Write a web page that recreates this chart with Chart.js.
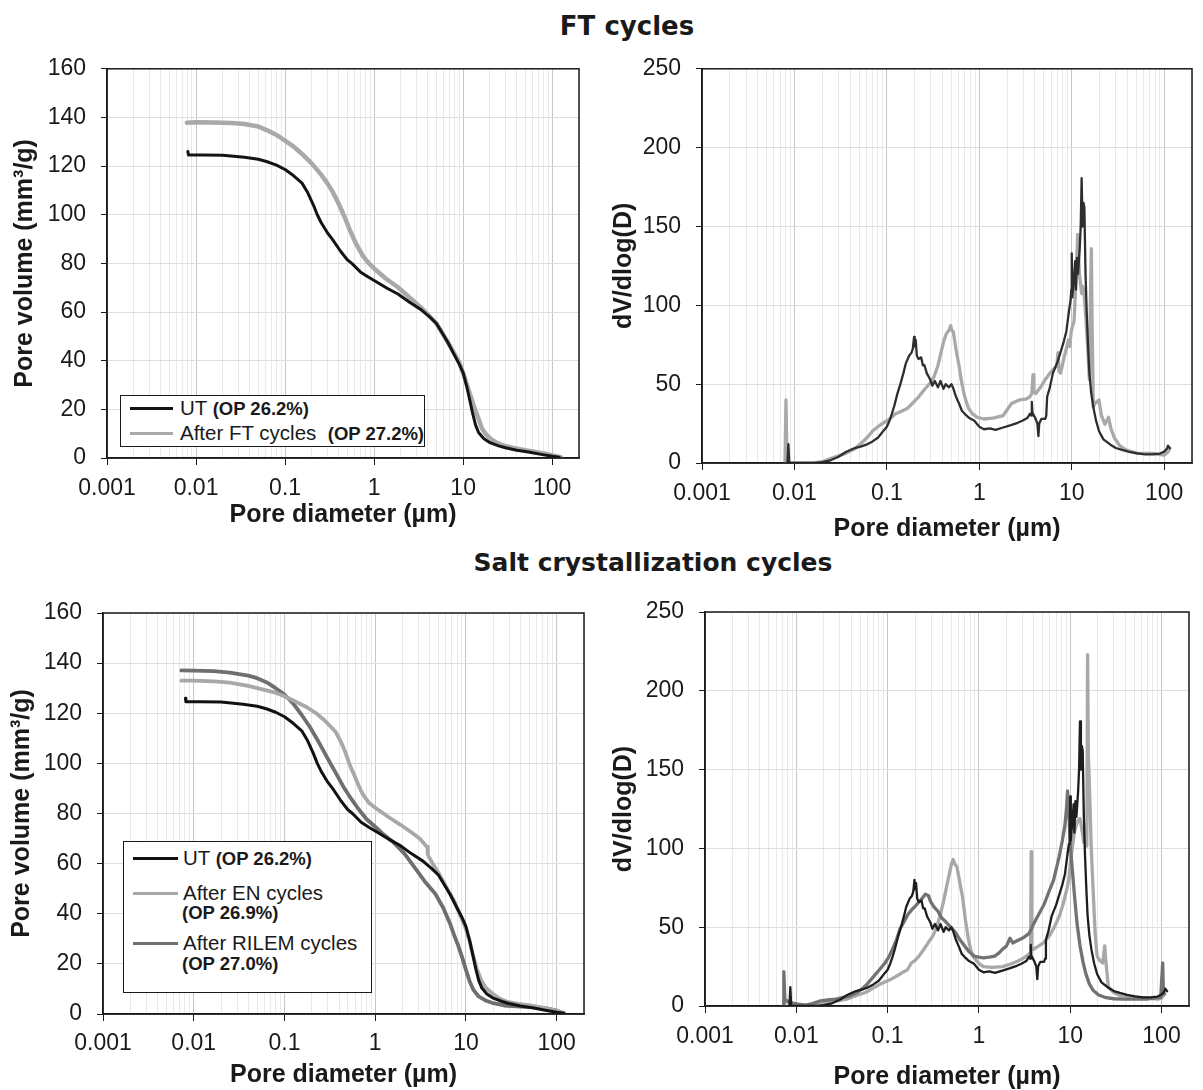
<!DOCTYPE html>
<html>
<head>
<meta charset="utf-8">
<script src="https://cdn.jsdelivr.net/npm/chart.js@4.4.1/dist/chart.umd.min.js"></script>
<style>
html,body{margin:0;padding:0;background:#fff;}
#page{position:relative;width:1203px;height:1090px;overflow:hidden;font-family:"Liberation Sans",Arial,sans-serif;color:#1a1a1a;background:#fff;}
canvas{position:absolute;}
.title{position:absolute;font-family:"DejaVu Sans",sans-serif;font-weight:bold;line-height:1;white-space:nowrap;transform:translateX(-50%);color:#1a1a1a;}
.legend{position:absolute;border:1.5px solid #1a1a1a;background:#fff;box-sizing:border-box;}
.legend .ln{position:absolute;height:3px;}
.legend .tx{position:absolute;white-space:pre;line-height:1;font-size:20.5px;transform:translateY(-50%);color:#1a1a1a;}
.legend .tx b{font-size:18.5px;}
</style>
</head>
<body>
<div id="page">
  <div class="title" style="left:627px;top:12.5px;font-size:26px;">FT cycles</div>
  <div class="title" style="left:653px;top:550px;font-size:25px;">Salt crystallization cycles</div>
  <canvas id="c1" width="600" height="505" style="left:0;top:40px;"></canvas>
  <canvas id="c2" width="603" height="505" style="left:600px;top:40px;"></canvas>
  <canvas id="c3" width="600" height="510" style="left:0;top:580px;"></canvas>
  <canvas id="c4" width="603" height="510" style="left:600px;top:580px;"></canvas>
</div>
<script>
// ---------- DATA ----------
const xTickLabels = ['0.001','0.01','0.1','1','10','100'];

// Cumulative pore volume (mm3/g) vs pore diameter (um)
const cumUT = [[0.0081,126],[0.0082,124.6],[0.012,124.6],[0.02,124.5],[0.035,123.6],[0.05,122.8],[0.063,121.8],[0.08,120.4],[0.1,118.6],[0.125,116],[0.155,113],[0.18,109],[0.208,104],[0.23,100],[0.254,96.8],[0.3,92.5],[0.342,89.8],[0.42,85],[0.5,81.5],[0.562,80],[0.7,76.5],[0.85,74.5],[1,73],[1.4,69.8],[1.85,67.4],[2.5,64],[3.36,61],[4.2,58],[4.99,55.4],[5.8,51.5],[6.7,47.7],[7.8,43],[9.06,38.5],[10,35],[11.04,29],[12,23],[12.8,18.2],[13.8,13.5],[14.9,10.5],[17,8],[20,6.3],[25,5],[29.8,4.2],[40,3.2],[54,2.5],[75,1.5],[100,0.7],[120,0.3]];
const cumFT = [[0.0079,137.8],[0.01,138],[0.0158,137.9],[0.025,137.7],[0.035,137.3],[0.05,136.3],[0.063,134.7],[0.08,132.8],[0.1,130.5],[0.125,128],[0.155,125],[0.2,121],[0.254,116.5],[0.3,112.8],[0.342,109.5],[0.4,104.5],[0.46,99.6],[0.53,94],[0.62,88.4],[0.75,83],[0.85,80.5],[1,77.9],[1.35,73.8],[1.85,70.2],[2.5,66],[3.36,61.8],[4.2,58.3],[4.99,55.4],[5.8,51.5],[6.7,47.7],[7.8,43.5],[9.06,39.3],[10.2,34],[11.5,28],[13,22],[14.9,16],[16.3,12],[18,9.8],[20.5,7.8],[23.6,6.3],[28,5.2],[35.6,4.2],[50,3.2],[65,2.5],[85,1.7],[100,1.1],[125,0.3]];
const cumEN = [[0.0073,133],[0.01,133],[0.0166,132.7],[0.025,132.2],[0.0398,130.9],[0.06,129.3],[0.08,128.2],[0.1,126.8],[0.13,124.8],[0.17,122.7],[0.22,120.2],[0.276,117.2],[0.32,114.8],[0.369,112.4],[0.42,108.5],[0.471,104.2],[0.53,99],[0.6,94.6],[0.66,91],[0.728,87.7],[0.85,84.3],[1,82.3],[1.4,78.6],[1.92,75.4],[2.5,72.5],[3.11,69.9],[3.6,67.2],[3.75,66.8],[3.8,63.5],[4.3,60],[5,56.2],[6.1,50.5],[7.4,45.2],[8.6,39.5],[9.9,34.3],[11,29],[12,23.3],[13.2,18],[14.6,13.7],[16.5,10.5],[19.5,8.2],[23.5,6.2],[28.8,4.8],[38,4],[51,3.4],[70,2.5],[100,1.4],[121,0.4]];
const cumRILEM = [[0.0073,137.1],[0.01,137],[0.0166,136.8],[0.025,136.2],[0.0398,135],[0.05,134],[0.064,132.3],[0.08,130],[0.1,127.5],[0.125,123.8],[0.155,119.3],[0.19,114.6],[0.228,109.7],[0.265,105.5],[0.304,101.5],[0.37,96],[0.449,90.5],[0.55,85.6],[0.66,81.6],[0.8,77.8],[1,74.7],[1.25,71.5],[1.59,68.5],[2.1,64],[2.83,57.6],[3.5,53],[4.59,48],[5.6,42.5],[6.76,35.6],[7.4,31.5],[8.2,27.4],[9.1,22.5],[9.96,17.8],[11,13],[12.1,9.6],[13.8,7],[16.2,5.5],[20,4.3],[26.3,3.4],[40,3],[57,2.7],[80,2.1],[100,1.4],[117,0.4]];

// Differential distribution dV/dlog(D) vs pore diameter (um)
const distUT = [[0.0084,0],[0.0086,12],[0.0088,0],[0.012,0],[0.0168,0],[0.02,0.5],[0.0246,1.7],[0.03,4],[0.036,7],[0.045,9.5],[0.053,10.5],[0.062,12],[0.07,13.7],[0.08,16],[0.0935,21],[0.1,23],[0.107,27],[0.113,31],[0.12,36],[0.13,44],[0.14,50],[0.151,57],[0.16,63],[0.174,68],[0.185,70],[0.191,72.6],[0.197,80],[0.2,74],[0.205,78],[0.211,68],[0.22,66],[0.235,67],[0.245,62],[0.255,62],[0.27,57],[0.294,53],[0.31,49],[0.33,52],[0.357,48],[0.38,52],[0.41,47],[0.432,50],[0.47,48],[0.5,50],[0.522,47.5],[0.56,42],[0.603,37.7],[0.65,33],[0.695,31.2],[0.78,28.5],[0.883,26.8],[1,23],[1.12,21.4],[1.3,22],[1.5,21],[1.81,22.5],[2.2,24],[2.6,25.5],[2.92,26.8],[3.3,28.5],[3.53,31.2],[3.65,30],[3.7,38.8],[3.75,32],[4.07,28],[4.25,25],[4.36,17],[4.45,25],[4.7,28],[5.17,28],[5.3,30],[5.42,42],[5.8,48],[6.26,57],[7,64],[7.58,70.5],[8.2,77],[8.75,83.6],[9.35,96.6],[9.7,103],[9.9,110],[10,133],[10.15,105],[10.6,118.5],[10.9,128],[11.1,110],[11.4,130],[11.7,120],[12.2,136],[12.5,150],[12.8,180.6],[13.1,150],[13.4,165],[13.7,162],[14.1,120],[14.5,96.6],[15,75],[15.5,57.4],[16.2,45],[17.1,35.6],[18.3,27],[19.7,20.3],[22,15],[26.2,11.6],[30,9.5],[35,8.3],[42,7],[51.3,6.1],[62,5.5],[75,5.5],[90,6],[100,7.2],[107,9],[110,11],[115,9.4]];
const distFT = [[0.0079,0],[0.0081,40],[0.0083,0],[0.012,0],[0.016,0],[0.02,0.8],[0.0246,2.8],[0.03,4.5],[0.036,6.1],[0.045,9],[0.053,12.7],[0.062,16.5],[0.07,20.3],[0.08,23],[0.0935,25.7],[0.108,28],[0.124,31.2],[0.14,32.5],[0.166,34.5],[0.19,38],[0.221,42],[0.25,46],[0.294,50.8],[0.325,55],[0.357,61.7],[0.385,70],[0.411,77],[0.44,82],[0.475,84.6],[0.49,87],[0.505,84],[0.522,83.5],[0.56,72],[0.603,61.7],[0.65,50],[0.695,42],[0.76,35],[0.842,31.2],[0.95,29],[1.12,27.9],[1.4,28.5],[1.81,30.1],[2.23,37.7],[2.71,40],[3.2,40.5],[3.53,42],[3.7,44],[3.81,56],[3.9,45],[4.07,44],[4.6,48],[5.17,53],[6,58],[6.88,61.7],[7.1,70],[7.3,58],[7.58,57],[8.2,66],[8.75,72.6],[9.2,78],[9.5,74],[9.9,84],[10.6,90],[11.1,115],[11.6,145],[12.1,120],[12.8,107.5],[13.2,112],[13.7,105],[14.3,90],[15,70],[15.5,53],[15.9,100],[16.3,136],[16.6,90],[17.1,35.6],[18,38],[19.7,40],[21,30],[22.8,24.6],[25,29],[26.5,22],[28.9,16],[33,11],[38.5,8.3],[51.3,6.1],[75,6.1],[100,5],[110,7],[115,9.4]];
const distEN = [[0.0072,0],[0.0073,3],[0.009,1.5],[0.0126,0],[0.016,0.5],[0.0223,2.2],[0.028,3.3],[0.036,4.4],[0.045,6.5],[0.058,8.7],[0.07,11.5],[0.085,14.2],[0.1,16],[0.113,17.5],[0.13,19.5],[0.151,21.8],[0.165,23],[0.182,27.3],[0.2,29],[0.221,31.7],[0.25,36],[0.28,40.4],[0.31,44],[0.34,49],[0.37,56],[0.411,66.6],[0.44,75],[0.475,84],[0.5,90],[0.522,93],[0.545,90],[0.574,88.4],[0.62,78],[0.663,68.8],[0.71,55],[0.766,42.6],[0.82,35],[0.883,30.6],[1,27],[1.12,25],[1.4,24.5],[1.81,25],[2.2,26.5],[2.65,28.4],[3.1,30.5],[3.53,32.8],[3.68,34],[3.74,98],[3.8,36],[3.96,36],[4.5,38],[5.17,40.4],[6,45],[6.88,51.3],[7.6,57],[8.34,64.4],[9,72],[9.62,79.7],[10.1,92],[10.6,101.5],[11.1,110],[11.6,114.6],[12.2,118],[12.8,119],[13.4,112],[14.1,103.7],[14.7,115],[15.2,101.5],[15.5,223],[15.8,160],[16.3,136],[17,100],[17.9,71],[18.8,45],[19.7,31.7],[21,29],[22.7,27.3],[23.9,38.2],[24.6,28],[26.2,12],[30,8.5],[35,6.6],[45,6],[56.4,5.5],[70,5],[91,4.4],[100,5],[105,6.6]];
const distRILEM = [[0.0072,0],[0.0073,21.8],[0.0075,4],[0.0086,2.2],[0.0105,1.2],[0.0126,0.6],[0.015,1.5],[0.0185,3.3],[0.022,3.8],[0.027,4.4],[0.033,5.5],[0.0396,6.6],[0.046,8.5],[0.053,11],[0.06,14],[0.07,18.6],[0.08,22.5],[0.0935,27.3],[0.103,31],[0.113,36],[0.125,42],[0.137,49],[0.15,53],[0.166,57.9],[0.183,61],[0.201,63.3],[0.22,66],[0.243,68.8],[0.26,71],[0.28,70],[0.294,66.6],[0.32,63],[0.357,60],[0.39,56],[0.432,53.5],[0.49,50],[0.548,47],[0.62,42],[0.695,38.2],[0.78,34.5],[0.883,31.7],[1,31],[1.12,30.6],[1.3,31],[1.49,31.7],[1.65,33.5],[1.81,36],[2,38],[2.19,43],[2.35,40],[2.65,41.5],[3.1,43.5],[3.53,45.9],[3.9,51],[4.28,55.7],[4.7,60],[5.17,64.4],[5.8,72],[6.56,79.7],[7.1,88],[7.58,95],[8.2,105],[8.75,114.6],[9.1,125],[9.35,136.5],[9.7,120],[10.1,99.3],[10.6,85],[11.1,71],[11.9,52],[12.8,38.2],[13.8,28],[14.8,20.7],[16.2,14],[17.9,9.8],[20.5,7],[23.9,5.5],[30,4.6],[38.5,4.4],[50,4.4],[68,4.4],[85,5],[98,5.5],[103,27.3],[105,8],[108,7.6]];

// Series names and total open porosity
const nameUT = 'UT', opUT = '(OP 26.2%)';
const nameFT = 'After FT cycles', opFT = '(OP 27.2%)';
const nameEN = 'After EN cycles', opEN = '(OP 26.9%)';
const nameRILEM = 'After RILEM cycles', opRILEM = '(OP 27.0%)';

// ---------- HELPERS ----------
const toXY = arr => arr.map(p => ({x: p[0], y: p[1]}));
const isDecade = v => { const l = Math.log10(v); return Math.abs(l - Math.round(l)) < 1e-6; };
function logGridValues(){
  const out = [];
  for (let e = -3; e <= 2; e++) for (let s = 1; s <= 9; s++) {
    const v = +(s * Math.pow(10, e)).toPrecision(6);
    if (v <= 200) out.push(v);
  }
  out.push(200);
  return out;
}
const framePlugin = {
  id: 'frame',
  afterDraw(chart){
    const {ctx, chartArea: a} = chart;
    ctx.save(); ctx.strokeStyle = '#1a1a1a'; ctx.lineWidth = 1.5;
    ctx.strokeRect(a.left, a.top, a.right - a.left, a.bottom - a.top);
    ctx.restore();
  }
};

function makeChart(id, g, datasets, yMax, yStep, yTitle){
  const ctx = document.getElementById(id);
  return new Chart(ctx, {
    type: 'line',
    data: { datasets },
    plugins: [framePlugin],
    options: {
      responsive: false, animation: false,
      layout: { padding: { top: g.padTop, right: g.padRight, left: 0, bottom: 0 } },
      plugins: { legend: { display: false }, tooltip: { enabled: false } },
      elements: { point: { radius: 0 }, line: { tension: 0, borderJoinStyle: 'round', borderCapStyle: 'round' } },
      scales: {
        x: {
          type: 'logarithmic', min: 0.001, max: 200,
          afterBuildTicks: s => { s.ticks = logGridValues().map(v => ({value: v})); },
          afterFit: s => { s.height = g.xH; },
          ticks: {
            autoSkip: false, maxRotation: 0, minRotation: 0, padding: g.xPad,
            color: '#1a1a1a', font: { family: 'Liberation Sans', size: 23 },
            callback: v => (isDecade(v) && v <= 100) ? xTickLabels[Math.round(Math.log10(v)) + 3] : ''
          },
          grid: {
            color: c => (c.tick && isDecade(c.tick.value)) ? '#c6c6c6' : '#e9e9e9',
            lineWidth: 1, tickLength: 7,
            tickColor: c => (c.tick && isDecade(c.tick.value) && c.tick.value <= 100) ? '#1a1a1a' : 'rgba(0,0,0,0)'
          },
          border: { color: '#1a1a1a', width: 1.5 },
          title: {
            display: true, text: 'Pore diameter (µm)', color: '#1a1a1a',
            font: { family: 'Liberation Sans', size: 25, weight: 'bold', lineHeight: 1 },
            padding: { top: 0, bottom: g.xTitlePad }
          }
        },
        y: {
          type: 'linear', min: 0, max: yMax,
          afterFit: s => { s.width = g.yW; },
          ticks: { stepSize: yStep, padding: 15, color: '#1a1a1a', font: { family: 'Liberation Sans', size: 23 } },
          grid: { color: '#dedede', lineWidth: 1, tickLength: 6, tickColor: '#1a1a1a' },
          border: { color: '#1a1a1a', width: 1.5 },
          title: {
            display: true, text: yTitle, color: '#1a1a1a',
            font: { family: 'Liberation Sans', size: 25, weight: 'bold', lineHeight: 1 },
            padding: { top: g.yTitlePad, bottom: 0 }
          }
        }
      }
    }
  });
}

function buildLegend(chart, spec){
  const box = document.createElement('div');
  box.className = 'legend';
  Object.assign(box.style, { left: spec.left + 'px', top: spec.top + 'px', width: spec.width + 'px', height: spec.height + 'px' });
  chart.data.datasets.forEach((ds, i) => {
    const r = spec.rows[i];
    const ln = document.createElement('div');
    ln.className = 'ln';
    Object.assign(ln.style, { left: spec.lineX + 'px', width: spec.lineW + 'px', top: (r.y - 1.5) + 'px', background: ds.borderColor });
    box.appendChild(ln);
    const tx = document.createElement('div');
    tx.className = 'tx';
    Object.assign(tx.style, { left: spec.textX + 'px', top: r.y + 'px' });
    if (r.opY == null) {
      tx.innerHTML = ds.label + r.gap + '<b>' + ds.op + '</b>';
    } else {
      tx.textContent = ds.label;
      const op = document.createElement('div');
      op.className = 'tx';
      Object.assign(op.style, { left: (spec.textX - 1) + 'px', top: r.opY + 'px' });
      op.innerHTML = '<b>' + ds.op + '</b>';
      box.appendChild(op);
    }
    box.appendChild(tx);
  });
  document.getElementById('page').appendChild(box);
}

const dsLine = (label, op, data, color, width) => ({ label, op, data: toXY(data), borderColor: color, backgroundColor: color, borderWidth: width, fill: false });

// ---------- CHARTS ----------
const ch1 = makeChart('c1', { padTop: 26, padRight: 21, yW: 107, xH: 87, xPad: 10, xTitlePad: 17, yTitlePad: 13 },
  [ dsLine(nameUT, opUT, cumUT, '#141414', 3), dsLine(nameFT, opFT, cumFT, '#a9a9a9', 4.5) ],
  160, 20, 'Pore volume (mm³/g)');
const ch2 = makeChart('c2', { padTop: 28, padRight: 11, yW: 102, xH: 82, xPad: 10, xTitlePad: 3, yTitlePad: 12 },
  [ dsLine(nameUT, opUT, distUT, '#2e2e2e', 2.3), dsLine(nameFT, opFT, distFT, '#a9a9a9', 3.3) ],
  250, 50, 'dV/dlog(D)');
const ch3 = makeChart('c3', { padTop: 33, padRight: 16, yW: 103, xH: 76, xPad: 9, xTitlePad: 2, yTitlePad: 10 },
  [ dsLine(nameUT, opUT, cumUT, '#111111', 3), dsLine(nameEN, opEN, cumEN, '#a8a8a8', 3.8), dsLine(nameRILEM, opRILEM, cumRILEM, '#6f6f6f', 3.8) ],
  160, 20, 'Pore volume (mm³/g)');
const ch4 = makeChart('c4', { padTop: 32, padRight: 14, yW: 105, xH: 84, xPad: 10, xTitlePad: 0, yTitlePad: 12 },
  [ dsLine(nameUT, opUT, distUT, '#1e1e1e', 2.3), dsLine(nameRILEM, opRILEM, distRILEM, '#727272', 3.3), dsLine(nameEN, opEN, distEN, '#a8a8a8', 3.3) ],
  250, 50, 'dV/dlog(D)');

buildLegend(ch1, { left: 120, top: 395, width: 305, height: 52, lineX: 9, lineW: 43, textX: 59,
  rows: [ { y: 12, gap: ' ' }, { y: 37, gap: '  ' } ] });
buildLegend(ch3, { left: 123, top: 841, width: 249, height: 152, lineX: 9, lineW: 45, textX: 59,
  rows: [ { y: 16, gap: ' ' }, { y: 51, opY: 70 }, { y: 101, opY: 121 } ] });
</script>
</body>
</html>
